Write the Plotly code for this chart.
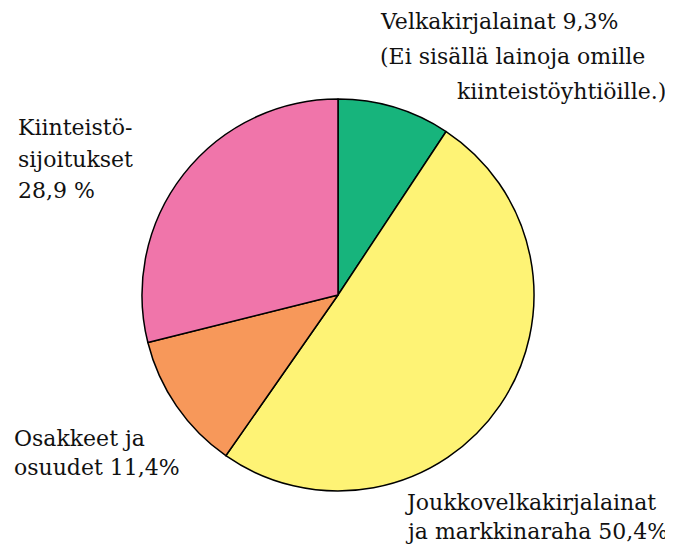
import plotly.graph_objects as go

# slice data, clockwise from 12 o'clock
labels = ["Velkakirjalainat", "Joukkovelkakirjalainat ja markkinaraha",
          "Osakkeet ja osuudet", "Kiinteistösijoitukset"]
values = [9.3, 50.4, 11.4, 28.9]
colors = ["#17b47c", "#fef375", "#f7985a", "#f075aa"]

# page body has an 8px margin, so the figure is drawn 8px smaller
OFF = 8
W, H = 673 - OFF, 545 - OFF
FONT = "DejaVu Serif"


def px(x):
    return (x - OFF) / W


def py(y):
    return 1 - (y - OFF) / H


fig = go.Figure(go.Pie(
    labels=labels, values=values,
    sort=False, direction="clockwise", rotation=0,
    marker=dict(colors=colors, line=dict(color="black", width=1.5)),
    textinfo="none", hoverinfo="label+percent",
    domain=dict(x=[px(142), px(534)], y=[py(491), py(99)]),
))

# text lines: (text, x px, y px centre, anchor)
notes = [
    ("Velkakirjalainat 9,3%", 378, 22, "left"),
    ("(Ei sisällä lainoja omille", 378, 57, "left"),
    ("kiinteistöyhtiöille.)", 668, 91, "right"),
    ("Kiinteistö-", 16, 128, "left"),
    ("sijoitukset", 16, 160, "left"),
    ("28,9 %", 16, 191, "left"),
    ("Osakkeet ja", 12, 438, "left"),
    ("osuudet 11,4%", 12, 467, "left"),
    ("Joukkovelkakirjalainat", 403, 502, "left"),
    ("ja markkinaraha 50,4%", 403, 531, "left"),
]
for t, x, y, a in notes:
    fig.add_annotation(text=t, x=px(x), y=py(y), xref="paper", yref="paper",
                       xanchor=a, yanchor="middle", showarrow=False,
                       font=dict(family=FONT, size=22, color="#111"))

fig.update_layout(
    width=W, height=H, showlegend=False,
    margin=dict(l=0, r=0, t=0, b=0),
    paper_bgcolor="white", plot_bgcolor="white",
    font=dict(family=FONT),
)

fig.write_html("out.html")
